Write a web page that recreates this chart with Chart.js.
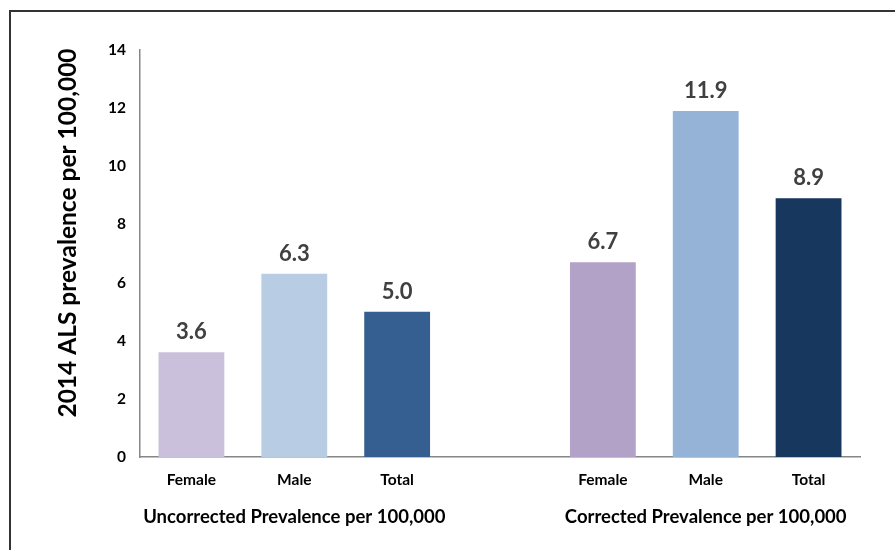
<!DOCTYPE html>
<html>
<head>
<meta charset="utf-8">
<script src="https://cdn.jsdelivr.net/npm/chart.js@4/dist/chart.umd.min.js"></script>
<style>
  html, body { margin: 0; padding: 0; background: #fff; }
  #wrap { position: relative; width: 895px; height: 550px; overflow: hidden; }
  #frame { position: absolute; left: 9px; top: 10px; width: 900px; height: 560px;
           border-left: 2px solid #333; border-top: 2px solid #333; box-sizing: border-box; }
  canvas { position: absolute; left: 0; top: 0; }
</style>
</head>
<body>
<div id="wrap">
  <div id="frame"></div>
  <canvas id="c" width="895" height="550"></canvas>
</div>
<script>
const categories = ["Female", "Male", "Total", "", "Female", "Male", "Total"];
const values = [3.6, 6.3, 5.0, null, 6.7, 11.9, 8.9];
const valueLabels = ["3.6", "6.3", "5.0", "", "6.7", "11.9", "8.9"];
const barColors = ["#cbc0dc", "#b8cce4", "#355f91", "#ffffff", "#b3a2c7", "#95b3d7", "#17375e"];
const groupLabels = ["Uncorrected Prevalence per 100,000", "Corrected Prevalence per 100,000"];
const groupCenters = [1, 5];
const yTicks = [0, 2, 4, 6, 8, 10, 12, 14];
const yTitle = "2014 ALS prevalence per 100,000";

const FONT = "Lato, 'Liberation Sans', sans-serif";

const labelPlugin = {
  id: 'labels',
  afterDatasetsDraw(chart) {
    const ctx = chart.ctx;
    const meta = chart.getDatasetMeta(0);
    ctx.save();
    ctx.font = "bold 22px " + FONT;
    ctx.fillStyle = "#404040";
    ctx.textAlign = "center";
    ctx.textBaseline = "alphabetic";
    meta.data.forEach((bar, i) => {
      if (values[i] == null) return;
      ctx.fillText(valueLabels[i], bar.x, bar.y - 13);
    });
    const xs = chart.scales.x;
    ctx.font = "bold 18.5px " + FONT;
    ctx.fillStyle = "#000";
    ctx.textBaseline = "middle";
    groupLabels.forEach((t, g) => {
      ctx.fillText(t, xs.getPixelForValue(groupCenters[g]), 517);
    });
    // y-axis title
    ctx.save();
    ctx.translate(76, 233);
    ctx.rotate(-Math.PI / 2);
    ctx.font = "bold 24.5px " + FONT;
    ctx.textAlign = "center";
    ctx.textBaseline = "alphabetic";
    ctx.fillText(yTitle, 0, 0);
    ctx.restore();
    ctx.restore();
  }
};

new Chart(document.getElementById('c'), {
  type: 'bar',
  data: {
    labels: categories,
    datasets: [{
      data: values,
      backgroundColor: barColors,
      barPercentage: 0.64,
      categoryPercentage: 1.0
    }]
  },
  options: {
    responsive: false,
    animation: false,
    events: [],
    layout: { padding: { top: 50, right: 35, left: 0, bottom: 0 } },
    plugins: { legend: { display: false }, tooltip: { enabled: false } },
    scales: {
      x: {
        grid: { display: false },
        border: { display: true, color: "#868686", width: 1.5 },
        ticks: { color: "#000", font: { family: FONT, size: 15.5, weight: 'bold' }, padding: 6, maxRotation: 0 },
        afterFit(s) { s.height = 93; }
      },
      y: {
        min: 0, max: 14,
        afterBuildTicks(s) { s.ticks = yTicks.map(v => ({ value: v })); },
        grid: { display: false },
        border: { display: true, color: "#868686", width: 1.5 },
        ticks: { color: "#000", font: { family: FONT, size: 15.5, weight: 'bold' }, padding: 6 },
        afterFit(s) { s.width = 140; }
      }
    }
  },
  plugins: [labelPlugin]
});
</script>
</body>
</html>
